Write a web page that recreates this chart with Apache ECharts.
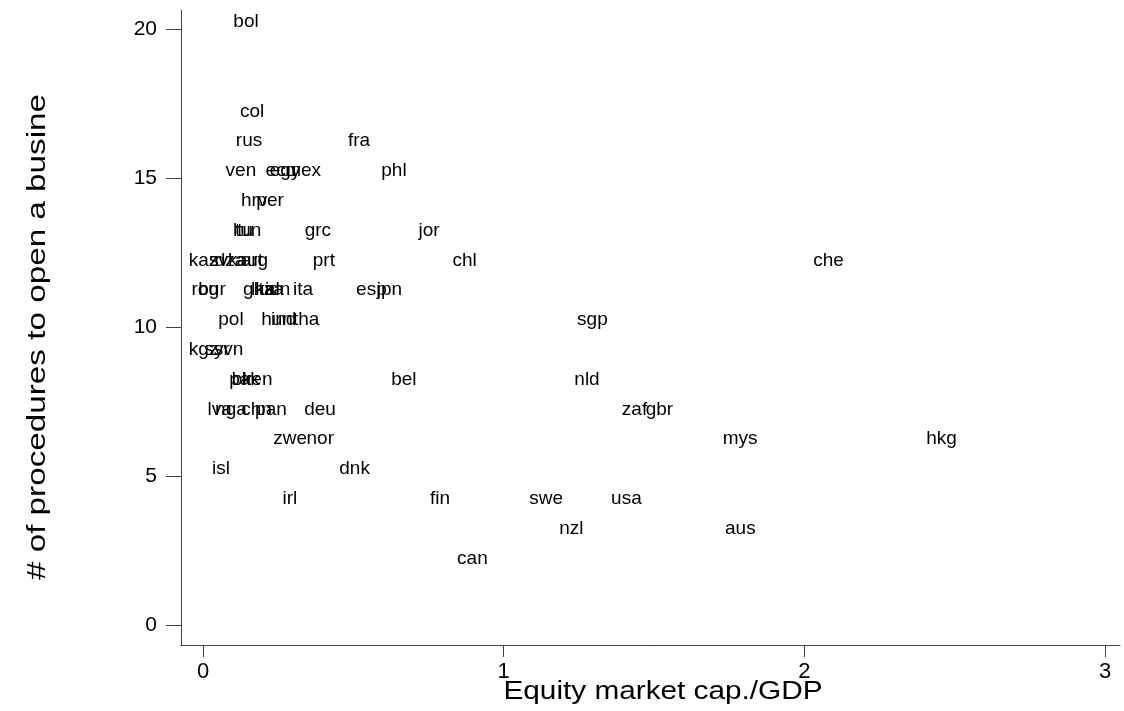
<!DOCTYPE html>
<html>
<head>
<meta charset="utf-8">
<script src="https://cdn.jsdelivr.net/npm/echarts@6/dist/echarts.min.js"></script>
<style>
  html, body { margin: 0; padding: 0; background: #fff; }
  #chart { width: 1124px; height: 711px; }
</style>
</head>
<body>
<div id="chart"></div>
<script>
// Country codes, equity market capitalisation / GDP, and number of procedures to open a business
const codes = [
  'bol',
  'col',
  'rus', 'fra',
  'ven', 'ecu', 'egy', 'mex', 'phl',
  'hrv', 'per',
  'ltu', 'tun', 'grc', 'jor',
  'kaz', 'svk', 'dza', 'aut', 'arg', 'prt', 'chl', 'che',
  'rou', 'bgr', 'gha', 'lka', 'tza', 'idn', 'ita', 'esp', 'jpn',
  'pol', 'hun', 'ind', 'tha', 'sgp',
  'kgz', 'syr', 'svn',
  'pak', 'blr', 'ken', 'bel', 'nld',
  'lva', 'nga', 'chn', 'pan', 'deu', 'zaf', 'gbr',
  'zwe', 'nor', 'mys', 'hkg',
  'isl', 'dnk',
  'irl', 'fin', 'swe', 'usa',
  'nzl', 'aus',
  'can'
];
const mcap = [
  0.143,
  0.163,
  0.153, 0.519,
  0.126, 0.259, 0.273, 0.333, 0.635,
  0.170, 0.223,
  0.133, 0.150, 0.382, 0.752,
  0.002, 0.067, 0.090, 0.156, 0.171, 0.402, 0.870, 2.080,
  0.007, 0.030, 0.186, 0.200, 0.227, 0.248, 0.333, 0.560, 0.620,
  0.093, 0.246, 0.268, 0.343, 1.295,
  0.002, 0.047, 0.085,
  0.138, 0.131, 0.180, 0.668, 1.277,
  0.055, 0.093, 0.178, 0.226, 0.389, 1.435, 1.518,
  0.290, 0.390, 1.786, 2.456,
  0.060, 0.504,
  0.289, 0.788, 1.141, 1.408,
  1.225, 1.787,
  0.896
];
const procs = [
  20,
  17,
  16, 16,
  15, 15, 15, 15, 15,
  14, 14,
  13, 13, 13, 13,
  12, 12, 12, 12, 12, 12, 12, 12,
  11, 11, 11, 11, 11, 11, 11, 11, 11,
  10, 10, 10, 10, 10,
  9, 9, 9,
  8, 8, 8, 8, 8,
  7, 7, 7, 7, 7, 7, 7,
  6, 6, 6, 6,
  5, 5,
  4, 4, 4, 4,
  3, 3,
  2
];
const xTicks = [0, 1, 2, 3];
const yTicks = [0, 5, 10, 15, 20];
const xTitle = 'Equity market cap./GDP';
const yTitle = '# of procedures to open a busine';

const FONT = "'Liberation Sans', Arial, Helvetica, sans-serif";
const points = mcap.map((x, i) => [x, procs[i]]);

const chart = echarts.init(document.getElementById('chart'), null, { renderer: 'canvas' });
chart.setOption({
  animation: false,
  backgroundColor: '#ffffff',
  grid: { left: 181, right: 4, top: 10, bottom: 66, containLabel: false, outerBoundsMode: 'none' },
  xAxis: {
    type: 'value',
    min: -0.0732,
    max: 3.0496,
    splitLine: { show: false },
    axisLine: { show: true, onZero: false, lineStyle: { color: '#444', width: 1 } },
    axisTick: { show: true, customValues: xTicks, length: 12, lineStyle: { color: '#444', width: 1 } },
    axisLabel: { customValues: xTicks, fontSize: 22, fontFamily: FONT, color: '#000', margin: 16 }
  },
  yAxis: {
    type: 'value',
    min: -0.671,
    max: 20.64,
    splitLine: { show: false },
    axisLine: { show: true, onZero: false, lineStyle: { color: '#444', width: 1 } },
    axisTick: { show: true, customValues: yTicks, length: 15, lineStyle: { color: '#444', width: 1 } },
    axisLabel: { customValues: yTicks, fontSize: 21, fontFamily: FONT, color: '#000', margin: 24 }
  },
  graphic: [
    {
      // x-axis title, slightly widened along its baseline
      type: 'text', x: 663, y: 692, scaleX: 1.19,
      style: { text: xTitle, fontSize: 25, fontFamily: FONT, fill: '#000', align: 'center', verticalAlign: 'middle' }
    },
    {
      // y-axis title, rotated and slightly widened along its baseline
      type: 'text', x: 38, y: 337, rotation: Math.PI / 2, scaleX: 1.33,
      style: { text: yTitle, fontSize: 25, fontFamily: FONT, fill: '#000', align: 'center', verticalAlign: 'middle' }
    }
  ],
  series: [{
    type: 'custom',
    clip: false,
    silent: true,
    data: points,
    renderItem: function (params, api) {
      const p = api.coord([api.value(0), api.value(1)]);
      return {
        type: 'text',
        x: p[0],
        y: p[1] - 7,
        style: {
          text: codes[params.dataIndex],
          fontSize: 19,
          fontFamily: FONT,
          fill: '#000',
          align: 'center',
          verticalAlign: 'middle'
        }
      };
    }
  }]
});
</script>
</body>
</html>
